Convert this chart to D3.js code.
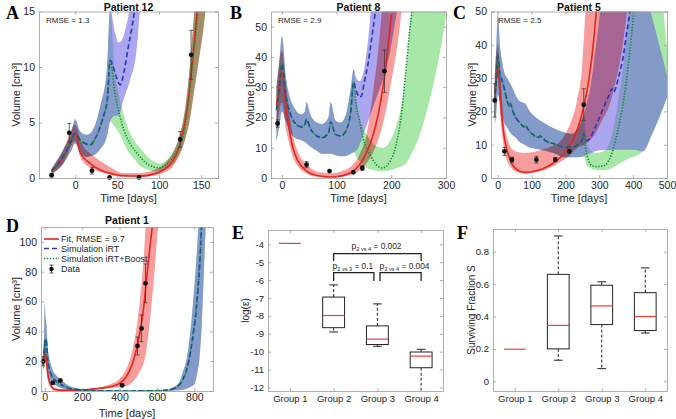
<!DOCTYPE html>
<html><head><meta charset="utf-8">
<script src="https://cdn.jsdelivr.net/npm/d3@7"></script>
<style>
body{margin:0;background:#fff;}
svg{display:block;}
</style></head><body>
<script>
// ================= DATA =================
// Panel A – Patient 12  ([t, value, err] for data; [t, value] for curves)
const A_pts = [[-28,0.25,0.15],[-7,4.07,0.85],[20,0.66,0.3],[41,0.05,0],[76,0.05,0],[125,3.47,0.7],[138,11.1,2.2]];
const A_fit = [[-28,0.55],[-22,1.0],[-14,1.9],[-6,3.1],[0,4.0],[6,2.3],[18,1.3],[30,0.72],[42,0.42],[57,0.2],[77,0.17],[93,0.35],[105,0.72],[117,1.6],[125,3.1],[133,6.1],[139,10],[145,15],[150,20]];
const A_fitLo = [[-28,0.3],[-14,1.3],[0,3.3],[8,1.6],[23.5,0.75],[41.5,0.3],[57,0.12],[77,0.08],[93,0.2],[105,0.45],[117,1.1],[125,2.2],[131,3.5],[137,5.5],[141,7.5],[146,10],[155,15],[165,25]];
const A_fitHi = [[-28,0.8],[-14,2.5],[0,4.8],[8,3.1],[23.5,1.9],[41.5,1.0],[57,0.45],[77,0.45],[93,0.7],[105,1.2],[117,2.4],[125,4.0],[131,6.3],[137,10.5],[141,14.5],[146,19.5]];
const A_shared = [[-28,0.66],[-20,1.3],[-10,2.5],[0,4.0],[6,3.4],[14,3.05],[18,3.0],[26,3.9],[33,5.4],[38.5,7.2],[41.5,10.6]];
const A_sharedLo = [[-28,0.4],[-14,1.3],[-5,2.4],[0,3.1],[6,2.3],[14,1.9],[20,2.0],[30,2.6],[38,3.8],[41.5,5.1]];
const A_sharedHi = [[-28,0.85],[-14,2.6],[-5,4.0],[0,5.3],[6,4.2],[14,3.9],[20,4.2],[30,6.5],[38,10],[41.5,15.2]];
const A_irt = [[49.5,9.0],[53.5,8.4],[58,9.5],[63,11.7],[67,13.3],[70.5,15],[74,17]];
const A_irtLo = [[47.5,5.6],[51.5,5.6],[57.4,7.0],[65.3,8.8],[73,11.5],[77,15],[80,18]];
const A_irtHi = [[47.5,13.1],[51.5,12.2],[55.5,12.4],[59.5,13.3],[65.5,15.5],[70,18]];
const A_boost = [[47.5,7.6],[53.5,5.5],[61.4,3.7],[69.4,2.65],[77.3,1.9],[85.3,1.3],[93.3,1.0],[99,0.92],[107,1.1],[115,1.75],[123,2.8],[129,4.0],[133,5.8],[137,8.2],[141,11.2],[146,15],[150,19]];
const A_boostLo = [[47.5,4.6],[53.5,3.9],[61.4,2.6],[69.4,1.8],[77.3,1.1],[85,0.8],[93,0.6],[101,0.6],[109,0.8],[117,1.3],[125,2.3],[131,3.5],[137,5.5],[141,7.5],[146,10],[155,15],[165,25]];
const A_boostHi = [[47.5,9.5],[53.5,7],[61.4,4.8],[69.4,3.5],[77.3,2.7],[85,2.0],[93,1.5],[101,1.3],[109,1.6],[117,2.4],[125,4.0],[131,6.3],[137,10.5],[141,14],[146,19]];

// Panel B – Patient 8
const B_pts = [[-8,18,1.2],[45,4.4,1],[87,2.3,0],[130.6,1.9,0],[147,3.3,0.8],[187.5,35.3,7]];
const B_fit = [[-10,24],[-5,30],[0,35],[7.5,23.3],[13.8,15.6],[20,10],[29.4,5.6],[41.9,2.8],[54.4,1.3],[73,0.55],[92,0.35],[110.6,0.78],[129.4,2.2],[142,4.4],[154.4,8.3],[167,14.4],[176,21],[185.6,31],[192,40],[198,50],[203,58]];
const B_fitLo = [[-10,15],[0,25],[7.5,16],[13.8,11],[20,7],[29.4,3.8],[41.9,1.8],[54.4,0.7],[73,0.3],[92,0.2],[110.6,0.4],[129.4,1.2],[142,2.5],[154.4,4.8],[167,8.6],[176,12.6],[185.6,18.6],[192,24],[198,30],[205,37],[212,45],[218,54],[222,62]];
const B_fitHi = [[-10,30],[0,42],[7.5,30],[13.8,21],[20,14],[29.4,8.5],[41.9,5],[54.4,3],[73,1.8],[92,1.6],[110.6,2.3],[129.4,4.4],[142,7.8],[154.4,14],[167,29],[176,42],[185.6,62],[192,80]];
const B_shared = [[-10,22.5],[-5,29],[0,37.8],[7.5,26.7],[14,22],[23,18.3],[35.6,16.9],[42,17.8],[45,19.4],[51,16.7],[64,13.9],[73,13.3],[85.6,15],[89,18.5],[98,14.4],[107.5,13.9],[117,15.6],[126,22.2],[131,31.7]];
const B_sharedLo = [[-10,12],[-5,17],[0,22],[7.5,18.6],[14,15.5],[23,13.3],[35,12.5],[45,11.5],[51,10.5],[64,9],[73,8],[89,8],[98,7.5],[107,7.2],[117,7.3],[126,8],[131,8.5]];
const B_sharedHi = [[-10,30],[-5,38],[0,47],[7.5,33],[14,27],[23,23],[35,21],[42,22],[45,25],[51,21.5],[64,18.3],[73,17.8],[85,20],[89,25],[98,19],[107,18.3],[117,21],[126,30],[131,36]];
const B_irt = [[135.6,28.9],[142,26.7],[145,27],[151,32],[157.5,37.8],[163.8,45.6],[170,54],[173,59]];
const B_irtLo = [[136,9],[142,11],[150,15],[160,20],[173,26.7],[185.6,33],[198,42],[207.5,52],[212,57],[220,70]];
const B_irtHi = [[136,33],[142,32],[151,36.7],[157.5,45.6],[162.5,55],[170,70],[180,100]];
const B_boost = [[135.6,24.4],[142,18.9],[148,13.3],[160.6,7.8],[173,4.4],[182.5,3.3],[189,3.6],[198,5.6],[207.5,10],[214,15.6],[220,23.3],[226,34.4],[232.5,46.7],[237.5,55],[240,60]];
const B_boostLo = [[136,7],[142,5.5],[148,4.2],[160,3],[173,2.4],[185,2.2],[198,2.6],[210,3.3],[220,4],[228,5],[236,7.8],[248,12.2],[260,18.9],[273,27.8],[286,38.9],[295,47.8],[301,55],[310,66]];
const B_boostHi = [[136,26],[142,20],[148,16.7],[160,13],[173,10.5],[185,10],[198,12.2],[210,17.8],[220,25.6],[228,37],[236,55],[248,80]];

// Panel C – Patient 5
const C_pts = [[-9,23.3,5],[19.7,8.0,1.2],[42,5.5,0.8],[114,5.5,1],[170,5.5,0.6],[211.6,8.0,0.6],[254,22,4.8]];
const C_fit = [[-9,25],[-4,30],[0,35.3],[8,23.3],[17.7,13.3],[27.6,8.2],[42.3,4.2],[62,2.2],[81.7,1.7],[101,1.9],[131,2.7],[160.4,4.2],[185,6.2],[209.6,9.2],[234,14.3],[249,19.3],[263.8,26.3],[275.6,34.3],[285.4,43.4],[291.3,50],[296,56]];
const C_fitLo = [[-9,20],[0,30],[8,18],[18,9],[28,5],[42,2.8],[62,1.6],[82,1.3],[101,1.5],[131,2.2],[160,3.4],[185,4.8],[210,6.5],[235,9],[259,10.2],[288,13.3],[308,17.3],[328,21.3],[347,28.3],[367,38.4],[382,50],[390,58]];
const C_fitHi = [[-9,30],[0,40],[8,30],[18,17],[28,12],[42,8.7],[62,7.7],[82,7.5],[101,7.7],[131,8.5],[160,9.5],[185,11],[210,15.3],[234,23.3],[249,33.3],[259,50],[265,60]];
const C_shared = [[-9,23],[-4,30],[0,37.3],[5,32],[12.8,29.3],[20,26.5],[27.6,23.3],[35,21.5],[37.4,22.3],[45,20],[52,18.3],[62,17],[72,15.8],[79,15.3],[81.7,15.8],[90,14.5],[101,13.3],[121,12.2],[125,12.6],[141,11.2],[170,10.2],[200,9.2],[219.5,9.2],[239,10.2],[250,11.5],[254,13.3]];
const C_sharedLo = [[-9,16],[-4,20],[0,25],[8,22],[12.8,19.3],[17.7,17],[27.6,15.3],[37.4,13.5],[52,12.2],[62,11],[81.7,9.8],[91.5,9.2],[111,8.8],[141,8.2],[180,6.8],[190,6.2],[219.5,6.2],[239,6.2],[254,6.5]];
const C_sharedHi = [[-9,30],[-4,40],[0,49.4],[8,38.4],[12.8,35],[17.7,32.3],[27.6,30],[37.4,28.3],[52,25],[62,23.3],[81.7,22.3],[91.5,20.5],[111,18.3],[141,16.3],[180,14.3],[219.5,13.3],[239,15.3],[254,19]];
const C_irt = [[258,12],[263.8,11.2],[273.6,12.2],[288,15.3],[300,18],[313,21.3],[325,24],[337.6,26.8],[342,25.8],[357,30.3],[372,37.3],[382,44.4],[389,48.9],[393,53]];
const C_irtLo = [[262,7],[275,7.5],[288,8],[300,8.3],[350,8.5],[400,8.5],[430,8],[456,13.3],[485,20.3],[510,27]];
const C_irtHi = [[262,22],[275,28],[288,38],[300,48],[310,60],[350,90]];
const C_boost = [[259,9.2],[268.7,5.2],[278.5,3.7],[293,3.4],[313,3.7],[327.8,5.2],[342.5,9.2],[357,15.3],[372,23.3],[384.8,33.3],[394.7,42.4],[401.6,50],[405,55]];
const C_boostLo = [[262,4],[270,3.2],[290,2.4],[313,2.3],[328,2.6],[342,3.2],[357,4.2],[372,5],[385,5.8],[397,6.2],[426,7.7],[456,13],[485,20],[510,27]];
const C_boostHi = [[262,11],[270,9],[290,7.5],[313,8],[328,10],[342,15],[357,24],[372,35],[385,50],[397,70],[430,120]];

// Panel D – Patient 1
const D_pts = [[-9,19.9,3],[43,5.5,1],[83.5,7,1],[414,3.8,1],[496,30.2,6],[518,42,9],[539,72.2,13]];
const D_fit = [[-9,17.7],[-3,23],[3,26],[10,19],[17,11],[25,6.5],[35,3.3],[52,1.1],[80,0.6],[122,0.44],[209,0.7],[296,1.8],[365,3.3],[417,6.6],[452,13.2],[478,22],[496,31],[513,42],[530,57],[548,79.5],[565,99],[574,109],[580,118]];
const D_fitLo = [[-9,14],[0,20],[10,14],[17,7],[35,2],[52,0.7],[122,0.2],[209,0.4],[300,1.2],[350,1.8],[400,2.5],[440,3.5],[470,6],[504,12],[539,24],[565,50],[605,110],[620,140]];
const D_fitHi = [[-9,22],[0,35],[10,24],[17,15],[35,5],[52,2],[122,1],[209,1.4],[300,2.5],[350,4.5],[400,8],[440,16],[470,28],[504,55],[539,110],[550,140]];
const D_shared = [[-9,20],[-3,27],[3,35],[8.7,33],[17,20],[35,11],[61,6.6],[87,4.4],[122,2.2],[174,0.9],[250,0.3],[296,0.12],[400,0.05],[500,0.05],[600,0.2],[640,0.5],[678,1.1],[700,2.3],[722,4.4],[740,8],[757,13.2],[770,20],[783,28.7],[796,40],[809,53],[818,66],[826,79.5],[832,92],[838,109],[842,118]];
const D_sharedLo = [[-9,14],[0,18],[8.7,22],[17,13],[35,6],[61,3.5],[87,2],[122,0.8],[174,0.3],[250,0.05],[400,0],[600,0.05],[650,0.1],[700,0.3],[739,0.8],[760,1.5],[783,3],[800,4.4],[817,13],[826,20],[840,45],[861,110],[870,130]];
const D_sharedHi = [[-9,25],[-3,40],[0,60],[4,50],[8.7,45],[17,28],[35,17],[61,10.5],[87,7.5],[122,4],[174,1.8],[250,0.8],[400,0.4],[640,0.5],[680,2],[720,6],[739,13],[760,22],[783,45],[800,70],[817,100],[826,120]];

// Panels E / F – box plots
const groups = ["Group 1","Group 2","Group 3","Group 4"];
const E_med = [-3.95,-7.98,-9.3,-10.25];
const E_q1  = [null,-8.66,-9.6,-10.9];
const E_q3  = [null,-6.95,-8.56,-10.02];
const E_wLo = [null,-8.9,-9.7,-12.6];
const E_wHi = [null,-6.27,-7.33,-9.87];
const F_med = [0.198,0.345,0.465,0.40];
const F_q1  = [null,0.2,0.35,0.313];
const F_q3  = [null,0.66,0.593,0.547];
const F_wLo = [null,0.13,0.078,0.298];
const F_wHi = [null,0.897,0.614,0.70];
const E_pvals = [["2 vs 4","0.002"],["2 vs 3","0.1"],["3 vs 4","0.004"]];

const titles = {A:"Patient 12",B:"Patient 8",C:"Patient 5",D:"Patient 1"};
const rmse = {A:"1.3",B:"2.9",C:"2.5",D:"9.7"};
const legendLabels = ["Fit, RMSE = 9.7","Simulation iRT","Simulation iRT+Boost","Data"];

// ================= LAYOUT / STYLE =================
const FONT = "'Liberation Sans', Arial, Helvetica, sans-serif";
const SERIF = "'Liberation Serif', 'Times New Roman', serif";
const C_BOOST = "#5fd35f", C_IRT = "#685be4", C_FITBAND = "#f89c9c";
const C_FIT = "#e3261f", C_IRTLINE = "#2438b8", C_BOOSTLINE = "#128a3a";
const AXC = "#9a9a9a", TXT = "#262626";

const layout = {
  A:{x0:39,x1:218,y0:11.5,y1:178},
  B:{x0:271,x1:446,y0:11.5,y1:178},
  C:{x0:491,x1:667,y0:11.5,y1:178},
  D:{x0:41,x1:213,y0:227,y1:391},
  E:{x0:268,x1:443,y0:230,y1:391},
  F:{x0:493,x1:667,y0:229,y1:391}
};

const svg = d3.select("body").append("svg").attr("width",676).attr("height",419);
const defs = svg.append("defs");
svg.append("rect").attr("width",676).attr("height",419).attr("fill","#fff");

function makeAxes(key, xd, yd) {
  const b = layout[key];
  const x = d3.scaleLinear().domain(xd).range([b.x0,b.x1]);
  const y = d3.scaleLinear().domain(yd).range([b.y1,b.y0]);
  const g = svg.append("g");
  g.append("rect").attr("x",b.x0).attr("y",b.y0).attr("width",b.x1-b.x0).attr("height",b.y1-b.y0).attr("fill","#fff");
  defs.append("clipPath").attr("id","clip"+key).append("rect")
    .attr("x",b.x0).attr("y",b.y0).attr("width",b.x1-b.x0).attr("height",b.y1-b.y0);
  const plot = g.append("g").attr("clip-path",`url(#clip${key})`);
  plot.append("rect").attr("x",b.x0).attr("y",b.y0).attr("width",b.x1-b.x0).attr("height",b.y1-b.y0).attr("fill","#fff");
  return {x,y,g,plot,b};
}

function frame(ax, xticks, yticks, xfmt, yfmt, fs, xpad) {
  const {x,y,g,b} = ax;
  const style = sel => {
    sel.attr("font-family",FONT).attr("font-size",fs);
    sel.select(".domain").attr("stroke",AXC).attr("stroke-width",0.8);
    sel.selectAll(".tick line").attr("stroke",AXC).attr("stroke-width",0.8);
    sel.selectAll(".tick text").attr("fill",TXT);
  };
  g.append("g").attr("transform",`translate(0,${b.y1})`)
    .call(d3.axisBottom(x).tickValues(xticks).tickSizeInner(-3).tickSizeOuter(0).tickPadding(xpad).tickFormat(xfmt)).call(style);
  g.append("g").attr("transform",`translate(0,${b.y0})`)
    .call(d3.axisTop(x).tickValues(xticks).tickSizeInner(-3).tickSizeOuter(0).tickFormat("")).call(style);
  g.append("g").attr("transform",`translate(${b.x0},0)`)
    .call(d3.axisLeft(y).tickValues(yticks).tickSizeInner(-3).tickSizeOuter(0).tickPadding(4).tickFormat(yfmt)).call(style);
  g.append("g").attr("transform",`translate(${b.x1},0)`)
    .call(d3.axisRight(y).tickValues(yticks).tickSizeInner(-3).tickSizeOuter(0).tickFormat("")).call(style);
}

function drawSim(ax, s) {
  const {x,y,plot,g} = ax;
  const ln = d3.line().x(d=>x(d[0])).y(d=>y(d[1])).curve(d3.curveMonotoneX);
  const band = (lo,hi) => ln(lo) + "L" + ln(hi.slice().reverse()).slice(1) + "Z";
  plot.append("path").attr("d",band(s.sharedLo.concat(s.boostLo), s.sharedHi.concat(s.boostHi)))
    .attr("fill",C_BOOST).attr("fill-opacity",0.55);
  plot.append("path").attr("d",band(s.sharedLo.concat(s.irtLo), s.sharedHi.concat(s.irtHi)))
    .attr("fill",C_IRT).attr("fill-opacity",0.55);
  plot.append("path").attr("d",band(s.fitLo, s.fitHi))
    .attr("fill",C_FITBAND).style("mix-blend-mode","multiply");
  plot.append("path").attr("d",ln(s.fit)).attr("fill","none").attr("stroke",C_FIT).attr("stroke-width",1.6);
  plot.append("path").attr("d",ln(s.shared.concat(s.irt))).attr("fill","none").attr("stroke",C_IRTLINE)
    .attr("stroke-width",1.6).attr("stroke-dasharray","5,3");
  plot.append("path").attr("d",ln(s.shared.concat(s.boost))).attr("fill","none").attr("stroke",C_BOOSTLINE)
    .attr("stroke-width",1.6).attr("stroke-dasharray","1.3,1.6");
  const pg = g.append("g");
  pg.selectAll("path").data(s.pts.filter(d=>d[2]>0)).join("path")
    .attr("d",d=>{const cx=x(d[0]), t=y(d[1]+d[2]), bt=y(d[1]-d[2]);
      return `M${cx-2},${t}H${cx+2}M${cx},${t}V${bt}M${cx-2},${bt}H${cx+2}`;})
    .attr("stroke","#3a3a3a").attr("stroke-width",0.8).attr("fill","none");
  pg.selectAll("circle").data(s.pts).join("circle")
    .attr("cx",d=>x(d[0])).attr("cy",d=>y(d[1])).attr("r",2.4).attr("fill","#111");
}

function labels(key, title, titleY, xlab, xlabY, ylab, ylabX, letter, letterPos) {
  const b = layout[key];
  const cx = (b.x0+b.x1)/2, cy = (b.y0+b.y1)/2;
  if (title) svg.append("text").attr("x",cx).attr("y",titleY).attr("text-anchor","middle")
    .attr("font-family",FONT).attr("font-weight","bold").attr("font-size",10.5).attr("fill","#111").text(title);
  if (xlab) svg.append("text").attr("x",cx).attr("y",xlabY).attr("text-anchor","middle")
    .attr("font-family",FONT).attr("font-size",11).attr("fill",TXT).text(xlab);
  svg.append("text").attr("transform",`translate(${ylabX},${cy}) rotate(-90)`).attr("text-anchor","middle")
    .attr("font-family",FONT).attr("font-size",key==="E"||key==="F"?10:11).attr("fill",TXT).text(ylab);
  svg.append("text").attr("x",letterPos[0]).attr("y",letterPos[1]).attr("font-family",SERIF)
    .attr("font-weight","bold").attr("font-size",18).attr("fill","#000").text(letter);
}

function rmseText(ax, val) {
  ax.g.append("text").attr("x",ax.b.x0+7).attr("y",ax.b.y0+11.5).attr("font-family",FONT)
    .attr("font-size",8).attr("fill","#222").text("RMSE = " + val);
}

// ---- A ----
const axA = makeAxes("A",[-43,170],[0,15]);
drawSim(axA,{fit:A_fit,fitLo:A_fitLo,fitHi:A_fitHi,shared:A_shared,sharedLo:A_sharedLo,sharedHi:A_sharedHi,
  irt:A_irt,irtLo:A_irtLo,irtHi:A_irtHi,boost:A_boost,boostLo:A_boostLo,boostHi:A_boostHi,pts:A_pts});
frame(axA,[0,50,100,150],[0,5,10,15],d=>d,d=>d,10.5,4);
rmseText(axA,rmse.A);
labels("A",titles.A,10.5,"Time [days]",202,"Volume [cm³]",20,"A",[6,19]);

// ---- B ----
const axB = makeAxes("B",[-20,300],[0,55]);
drawSim(axB,{fit:B_fit,fitLo:B_fitLo,fitHi:B_fitHi,shared:B_shared,sharedLo:B_sharedLo,sharedHi:B_sharedHi,
  irt:B_irt,irtLo:B_irtLo,irtHi:B_irtHi,boost:B_boost,boostLo:B_boostLo,boostHi:B_boostHi,pts:B_pts});
frame(axB,[0,100,200,300],[0,10,20,30,40,50],d=>d,d=>d,10.5,4);
rmseText(axB,rmse.B);
labels("B",titles.B,10.5,"Time [days]",202,"Volume [cm³]",254,"B",[230,19]);

// ---- C ----
const axC = makeAxes("C",[-20,500],[0,50]);
drawSim(axC,{fit:C_fit,fitLo:C_fitLo,fitHi:C_fitHi,shared:C_shared,sharedLo:C_sharedLo,sharedHi:C_sharedHi,
  irt:C_irt,irtLo:C_irtLo,irtHi:C_irtHi,boost:C_boost,boostLo:C_boostLo,boostHi:C_boostHi,pts:C_pts});
frame(axC,[0,100,200,300,400,500],[0,10,20,30,40,50],d=>d,d=>d,10.5,4);
rmseText(axC,rmse.C);
labels("C",titles.C,10.5,"Time [days]",202,"Volume [cm³]",476,"C",[453,19]);

// ---- D ----
const axD = makeAxes("D",[-20,900],[0,110]);
drawSim(axD,{fit:D_fit,fitLo:D_fitLo,fitHi:D_fitHi,shared:D_shared,sharedLo:D_sharedLo,sharedHi:D_sharedHi,
  irt:[],irtLo:[],irtHi:[],boost:[],boostLo:[],boostHi:[],pts:D_pts});
frame(axD,[0,200,400,600,800],[0,20,40,60,80,100],d=>d,d=>d,10.5,3);
labels("D",titles.D,224,"Time [days]",417,"Volume [cm³]",20,"D",[6,232]);
// legend
(function(){
  const lg = svg.append("g").attr("font-family",FONT).attr("font-size",9).attr("fill",TXT);
  const rows = [239,248.5,258.5,269];
  const x0 = 44, x1 = 59;
  lg.append("line").attr("x1",x0).attr("x2",x1).attr("y1",rows[0]).attr("y2",rows[0]).attr("stroke",C_FIT).attr("stroke-width",1.6);
  lg.append("line").attr("x1",x0).attr("x2",x1).attr("y1",rows[1]).attr("y2",rows[1]).attr("stroke",C_IRTLINE).attr("stroke-width",1.6).attr("stroke-dasharray","5,3");
  lg.append("line").attr("x1",x0).attr("x2",x1).attr("y1",rows[2]).attr("y2",rows[2]).attr("stroke",C_BOOSTLINE).attr("stroke-width",1.6).attr("stroke-dasharray","1.3,1.6");
  const mx = (x0+x1)/2;
  lg.append("path").attr("d",`M${mx-2},${rows[3]-4}H${mx+2}M${mx},${rows[3]-4}V${rows[3]+4}M${mx-2},${rows[3]+4}H${mx+2}`).attr("stroke","#3a3a3a").attr("stroke-width",0.8);
  lg.append("circle").attr("cx",mx).attr("cy",rows[3]).attr("r",2.2).attr("fill","#111");
  legendLabels.forEach((t,i)=>lg.append("text").attr("x",x1+2).attr("y",rows[i]+3.2).text(t));
})();

// ---- box plots ----
function boxPlot(key, yd, yticks, med, q1, q3, wlo, whi, ylab, ylabX, letterPos, letter) {
  const ax = makeAxes(key,[0.5,4.5],yd);
  const {x,y,plot} = ax;
  const hw = 0.25, cw = 0.1;
  const idx = d3.range(4).filter(i=>q1[i]!==null);
  plot.selectAll(".wh").data(idx).join("path")
    .attr("d",i=>`M${x(i+1)},${y(q3[i])}V${y(whi[i])}M${x(i+1)},${y(q1[i])}V${y(wlo[i])}`)
    .attr("stroke","#222").attr("stroke-width",1).attr("stroke-dasharray","3,2").attr("fill","none");
  plot.selectAll(".cap").data(idx).join("path")
    .attr("d",i=>`M${x(i+1-cw)},${y(whi[i])}H${x(i+1+cw)}M${x(i+1-cw)},${y(wlo[i])}H${x(i+1+cw)}`)
    .attr("stroke","#222").attr("stroke-width",1).attr("fill","none");
  plot.selectAll(".bx").data(idx).join("rect")
    .attr("x",i=>x(i+1-hw)).attr("width",i=>x(i+1+hw)-x(i+1-hw))
    .attr("y",i=>y(q3[i])).attr("height",i=>y(q1[i])-y(q3[i]))
    .attr("fill","none").attr("stroke","#222").attr("stroke-width",1);
  plot.selectAll(".md").data(d3.range(4)).join("line")
    .attr("x1",i=>x(i+1-hw)).attr("x2",i=>x(i+1+hw)).attr("y1",i=>y(med[i])).attr("y2",i=>y(med[i]))
    .attr("stroke","#ee3b3b").attr("stroke-width",1.2);
  frame(ax,[1,2,3,4],yticks,i=>groups[i-1],d=>String(d),9.5,4);
  labels(key,null,0,null,0,ylab,ylabX,letter,letterPos);
  return ax;
}

const axE = boxPlot("E",[-12.2,-3.2],d3.range(-12,-3),E_med,E_q1,E_q3,E_wLo,E_wHi,"log(ε)",249,[232,239],"E");
// significance brackets
(function(){
  const {x,y,g} = axE;
  const br = [[2,4,-4.52,-4.93],[2,2.92,-5.58,-6.05],[3.06,4,-5.58,-6.05]];
  g.selectAll(".br").data(br).join("path")
    .attr("d",d=>`M${x(d[0])},${y(d[3])}V${y(d[2])}H${x(d[1])}V${y(d[3])}`)
    .attr("stroke","#222").attr("stroke-width",1.3).attr("fill","none");
  const tp = [[2.98,-4.27],[2.44,-5.4],[3.62,-5.4]];
  E_pvals.forEach((p,i)=>{
    const t = g.append("text").attr("x",x(tp[i][0])).attr("y",y(tp[i][1])).attr("text-anchor","middle")
      .attr("font-family",FONT).attr("font-size",8.3).attr("fill",TXT);
    t.append("tspan").text("p");
    t.append("tspan").attr("font-size",5.6).attr("dy",1.5).text(p[0]);
    t.append("tspan").attr("dy",-1.5).text(" = " + p[1]);
  });
})();

boxPlot("F",[-0.06,0.94],[0,0.2,0.4,0.6,0.8],F_med,F_q1,F_q3,F_wLo,F_wHi,"Surviving Fraction S",475,[457,239],"F");
</script>
</body></html>
